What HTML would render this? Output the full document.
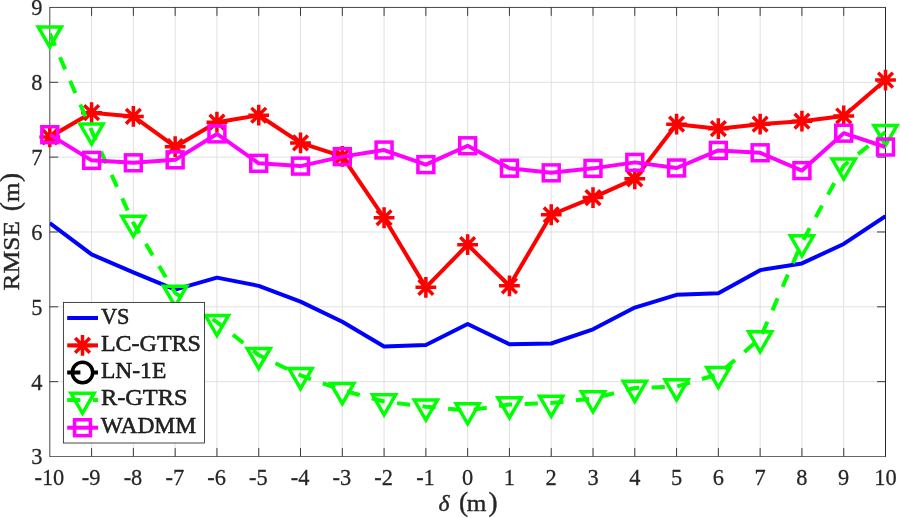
<!DOCTYPE html><html><head><meta charset="utf-8"><title>RMSE vs delta</title>
<style>html,body{margin:0;padding:0;background:#fff}svg{display:block}text{font-family:"Liberation Serif",serif;fill:#262626}</style></head><body>
<svg width="900" height="518" viewBox="0 0 900 518">
<rect width="900" height="518" fill="#fff"/>
<path d="M91.59,7.45V456.5M133.37,7.45V456.5M175.16,7.45V456.5M216.94,7.45V456.5M258.73,7.45V456.5M300.51,7.45V456.5M342.30,7.45V456.5M384.08,7.45V456.5M425.87,7.45V456.5M467.65,7.45V456.5M509.44,7.45V456.5M551.22,7.45V456.5M593.00,7.45V456.5M634.79,7.45V456.5M676.57,7.45V456.5M718.36,7.45V456.5M760.14,7.45V456.5M801.93,7.45V456.5M843.72,7.45V456.5M49.8,381.66H885.5M49.8,306.82H885.5M49.8,231.97H885.5M49.8,157.13H885.5M49.8,82.29H885.5" stroke="#dfdfdf" stroke-width="0.95" fill="none"/>
<defs><clipPath id="c"><rect x="49.8" y="7.45" width="835.7" height="449.05"/></clipPath></defs>
<path d="M91.59,456.5v-8.4M91.59,7.45v8.4M133.37,456.5v-8.4M133.37,7.45v8.4M175.16,456.5v-8.4M175.16,7.45v8.4M216.94,456.5v-8.4M216.94,7.45v8.4M258.73,456.5v-8.4M258.73,7.45v8.4M300.51,456.5v-8.4M300.51,7.45v8.4M342.30,456.5v-8.4M342.30,7.45v8.4M384.08,456.5v-8.4M384.08,7.45v8.4M425.87,456.5v-8.4M425.87,7.45v8.4M467.65,456.5v-8.4M467.65,7.45v8.4M509.44,456.5v-8.4M509.44,7.45v8.4M551.22,456.5v-8.4M551.22,7.45v8.4M593.00,456.5v-8.4M593.00,7.45v8.4M634.79,456.5v-8.4M634.79,7.45v8.4M676.57,456.5v-8.4M676.57,7.45v8.4M718.36,456.5v-8.4M718.36,7.45v8.4M760.14,456.5v-8.4M760.14,7.45v8.4M801.93,456.5v-8.4M801.93,7.45v8.4M843.72,456.5v-8.4M843.72,7.45v8.4M49.8,381.66h8.4M885.5,381.66h-8.4M49.8,306.82h8.4M885.5,306.82h-8.4M49.8,231.97h8.4M885.5,231.97h-8.4M49.8,157.13h8.4M885.5,157.13h-8.4M49.8,82.29h8.4M885.5,82.29h-8.4" stroke="#262626" stroke-width="0.9" fill="none"/>
<path d="M49.8,7.45H885.5" stroke="#262626" stroke-width="0.85" fill="none"/>
<path d="M49.8,456.5H885.5" stroke="#262626" stroke-width="0.7" fill="none"/>
<path d="M49.8,7.05V456.85" stroke="#262626" stroke-width="0.85" fill="none"/>
<path d="M885.5,7.05V456.85" stroke="#262626" stroke-width="1.0" fill="none"/>
<text transform="translate(49.40,484.8) scale(1,1.076)" font-size="22.4" text-anchor="middle" stroke="#262626" stroke-width="0.25">-10</text>
<text transform="translate(91.19,484.8) scale(1,1.076)" font-size="22.4" text-anchor="middle" stroke="#262626" stroke-width="0.25">-9</text>
<text transform="translate(132.97,484.8) scale(1,1.076)" font-size="22.4" text-anchor="middle" stroke="#262626" stroke-width="0.25">-8</text>
<text transform="translate(174.76,484.8) scale(1,1.076)" font-size="22.4" text-anchor="middle" stroke="#262626" stroke-width="0.25">-7</text>
<text transform="translate(216.54,484.8) scale(1,1.076)" font-size="22.4" text-anchor="middle" stroke="#262626" stroke-width="0.25">-6</text>
<text transform="translate(258.33,484.8) scale(1,1.076)" font-size="22.4" text-anchor="middle" stroke="#262626" stroke-width="0.25">-5</text>
<text transform="translate(300.11,484.8) scale(1,1.076)" font-size="22.4" text-anchor="middle" stroke="#262626" stroke-width="0.25">-4</text>
<text transform="translate(341.90,484.8) scale(1,1.076)" font-size="22.4" text-anchor="middle" stroke="#262626" stroke-width="0.25">-3</text>
<text transform="translate(383.68,484.8) scale(1,1.076)" font-size="22.4" text-anchor="middle" stroke="#262626" stroke-width="0.25">-2</text>
<text transform="translate(425.47,484.8) scale(1,1.076)" font-size="22.4" text-anchor="middle" stroke="#262626" stroke-width="0.25">-1</text>
<text transform="translate(467.65,484.8) scale(1,1.076)" font-size="22.4" text-anchor="middle" stroke="#262626" stroke-width="0.25">0</text>
<text transform="translate(509.44,484.8) scale(1,1.076)" font-size="22.4" text-anchor="middle" stroke="#262626" stroke-width="0.25">1</text>
<text transform="translate(551.22,484.8) scale(1,1.076)" font-size="22.4" text-anchor="middle" stroke="#262626" stroke-width="0.25">2</text>
<text transform="translate(593.00,484.8) scale(1,1.076)" font-size="22.4" text-anchor="middle" stroke="#262626" stroke-width="0.25">3</text>
<text transform="translate(634.79,484.8) scale(1,1.076)" font-size="22.4" text-anchor="middle" stroke="#262626" stroke-width="0.25">4</text>
<text transform="translate(676.57,484.8) scale(1,1.076)" font-size="22.4" text-anchor="middle" stroke="#262626" stroke-width="0.25">5</text>
<text transform="translate(718.36,484.8) scale(1,1.076)" font-size="22.4" text-anchor="middle" stroke="#262626" stroke-width="0.25">6</text>
<text transform="translate(760.14,484.8) scale(1,1.076)" font-size="22.4" text-anchor="middle" stroke="#262626" stroke-width="0.25">7</text>
<text transform="translate(801.93,484.8) scale(1,1.076)" font-size="22.4" text-anchor="middle" stroke="#262626" stroke-width="0.25">8</text>
<text transform="translate(843.72,484.8) scale(1,1.076)" font-size="22.4" text-anchor="middle" stroke="#262626" stroke-width="0.25">9</text>
<text transform="translate(885.50,484.8) scale(1,1.076)" font-size="22.4" text-anchor="middle" stroke="#262626" stroke-width="0.25">10</text>
<text transform="translate(42.5,464.40) scale(1,1.076)" font-size="22.4" text-anchor="end" stroke="#262626" stroke-width="0.25">3</text>
<text transform="translate(42.5,389.56) scale(1,1.076)" font-size="22.4" text-anchor="end" stroke="#262626" stroke-width="0.25">4</text>
<text transform="translate(42.5,314.72) scale(1,1.076)" font-size="22.4" text-anchor="end" stroke="#262626" stroke-width="0.25">5</text>
<text transform="translate(42.5,239.88) scale(1,1.076)" font-size="22.4" text-anchor="end" stroke="#262626" stroke-width="0.25">6</text>
<text transform="translate(42.5,165.03) scale(1,1.076)" font-size="22.4" text-anchor="end" stroke="#262626" stroke-width="0.25">7</text>
<text transform="translate(42.5,90.19) scale(1,1.076)" font-size="22.4" text-anchor="end" stroke="#262626" stroke-width="0.25">8</text>
<text transform="translate(42.5,15.35) scale(1,1.076)" font-size="22.4" text-anchor="end" stroke="#262626" stroke-width="0.25">9</text>
<text y="511.1" font-size="23.6" fill="#262626" stroke="#262626" stroke-width="0.4"><tspan x="438.4" font-style="italic">δ </tspan><tspan x="459.0" font-size="27.3">(</tspan><tspan x="466.7" textLength="19.6" lengthAdjust="spacingAndGlyphs">m</tspan><tspan x="488.6" font-size="27.3">)</tspan></text>
<text transform="translate(18.6,290.6) rotate(-90)" y="0" font-size="23.6" fill="#262626" stroke="#262626" stroke-width="0.4"><tspan x="0" textLength="69.6" lengthAdjust="spacingAndGlyphs">RMSE</tspan><tspan> </tspan><tspan x="79.4" font-size="27.3">(</tspan><tspan x="88.7" textLength="19.4" lengthAdjust="spacingAndGlyphs">m</tspan><tspan x="108.7" font-size="27.3">)</tspan></text>
<g clip-path="url(#c)" fill="none" stroke-linejoin="round">
<polyline points="49.80,222.99 91.59,254.43 133.37,272.39 175.16,289.60 216.94,277.63 258.73,285.86 300.51,301.58 342.30,321.78 384.08,346.48 425.87,344.99 467.65,324.03 509.44,344.24 551.22,343.49 593.00,329.27 634.79,307.57 676.57,294.84 718.36,293.35 760.14,270.14 801.93,263.41 843.72,243.95 885.50,216.26" stroke="#00f" stroke-width="4.0"/>
<polyline points="49.80,136.93 91.59,112.68 133.37,116.42 175.16,146.66 216.94,122.18 258.73,115.22 300.51,142.91 342.30,156.38 384.08,217.76 425.87,287.36 467.65,244.70 509.44,285.86 551.22,214.76 593.00,197.55 634.79,178.84 676.57,124.20 718.36,128.69 760.14,124.20 801.93,121.21 843.72,115.97 885.50,80.05" stroke="#f00" stroke-width="4.0"/>
</g>
<path d="M39.40,136.93H60.20M49.80,126.53V147.33M42.45,129.57L57.15,144.28M42.45,144.28L57.15,129.57" stroke="#f00" stroke-width="3.5" fill="none"/>
<path d="M81.19,112.68H101.99M91.59,102.28V123.08M84.23,105.32L98.94,120.03M84.23,120.03L98.94,105.32" stroke="#f00" stroke-width="3.5" fill="none"/>
<path d="M122.97,116.42H143.77M133.37,106.02V126.82M126.02,109.07L140.72,123.77M126.02,123.77L140.72,109.07" stroke="#f00" stroke-width="3.5" fill="none"/>
<path d="M164.76,146.66H185.56M175.16,136.26V157.06M167.80,139.30L182.51,154.01M167.80,154.01L182.51,139.30" stroke="#f00" stroke-width="3.5" fill="none"/>
<path d="M206.54,122.18H227.34M216.94,111.78V132.58M209.59,114.83L224.29,129.54M209.59,129.54L224.29,114.83" stroke="#f00" stroke-width="3.5" fill="none"/>
<path d="M248.33,115.22H269.12M258.73,104.82V125.62M251.37,107.87L266.08,122.58M251.37,122.58L266.08,107.87" stroke="#f00" stroke-width="3.5" fill="none"/>
<path d="M290.11,142.91H310.91M300.51,132.51V153.31M293.16,135.56L307.86,150.27M293.16,150.27L307.86,135.56" stroke="#f00" stroke-width="3.5" fill="none"/>
<path d="M331.90,156.38H352.69M342.30,145.98V166.78M334.94,149.03L349.65,163.74M334.94,163.74L349.65,149.03" stroke="#f00" stroke-width="3.5" fill="none"/>
<path d="M373.68,217.76H394.48M384.08,207.36V228.16M376.73,210.40L391.43,225.11M376.73,225.11L391.43,210.40" stroke="#f00" stroke-width="3.5" fill="none"/>
<path d="M415.47,287.36H436.26M425.87,276.96V297.76M418.51,280.00L433.22,294.71M418.51,294.71L433.22,280.00" stroke="#f00" stroke-width="3.5" fill="none"/>
<path d="M457.25,244.70H478.05M467.65,234.30V255.10M460.30,237.34L475.00,252.05M460.30,252.05L475.00,237.34" stroke="#f00" stroke-width="3.5" fill="none"/>
<path d="M499.04,285.86H519.84M509.44,275.46V296.26M502.08,278.51L516.79,293.21M502.08,293.21L516.79,278.51" stroke="#f00" stroke-width="3.5" fill="none"/>
<path d="M540.82,214.76H561.62M551.22,204.36V225.16M543.87,207.41L558.57,222.12M543.87,222.12L558.57,207.41" stroke="#f00" stroke-width="3.5" fill="none"/>
<path d="M582.61,197.55H603.40M593.00,187.15V207.95M585.65,190.19L600.36,204.90M585.65,204.90L600.36,190.19" stroke="#f00" stroke-width="3.5" fill="none"/>
<path d="M624.39,178.84H645.19M634.79,168.44V189.24M627.44,171.48L642.14,186.19M627.44,186.19L642.14,171.48" stroke="#f00" stroke-width="3.5" fill="none"/>
<path d="M666.17,124.20H686.97M676.57,113.80V134.60M669.22,116.85L683.93,131.56M669.22,131.56L683.93,116.85" stroke="#f00" stroke-width="3.5" fill="none"/>
<path d="M707.96,128.69H728.76M718.36,118.29V139.09M711.01,121.34L725.71,136.05M711.01,136.05L725.71,121.34" stroke="#f00" stroke-width="3.5" fill="none"/>
<path d="M749.75,124.20H770.54M760.14,113.80V134.60M752.79,116.85L767.50,131.56M752.79,131.56L767.50,116.85" stroke="#f00" stroke-width="3.5" fill="none"/>
<path d="M791.53,121.21H812.33M801.93,110.81V131.61M794.58,113.86L809.28,128.56M794.58,128.56L809.28,113.86" stroke="#f00" stroke-width="3.5" fill="none"/>
<path d="M833.32,115.97H854.12M843.72,105.57V126.37M836.36,108.62L851.07,123.32M836.36,123.32L851.07,108.62" stroke="#f00" stroke-width="3.5" fill="none"/>
<path d="M875.10,80.05H895.90M885.50,69.65V90.45M878.15,72.69L892.85,87.40M878.15,87.40L892.85,72.69" stroke="#f00" stroke-width="3.5" fill="none"/>
<g clip-path="url(#c)" fill="none" stroke-linejoin="round">
<polyline points="49.80,33.64 91.59,130.71 133.37,222.99 175.16,292.82 216.94,322.16 258.73,355.09 300.51,375.30 342.30,390.27 384.08,401.49 425.87,406.73 467.65,410.47 509.44,404.49 551.22,402.99 593.00,398.50 634.79,388.02 676.57,386.52 718.36,374.17 760.14,338.47 801.93,242.45 843.72,165.74 885.50,132.06" stroke="#0f0" stroke-width="4.0" stroke-dasharray="13.2 12.5"/>
</g>
<path d="M38.23,26.96H61.37L49.80,47.00Z" stroke="#0f0" stroke-width="3.5" fill="none" stroke-linejoin="miter"/>
<path d="M80.01,124.03H103.16L91.59,144.07Z" stroke="#0f0" stroke-width="3.5" fill="none" stroke-linejoin="miter"/>
<path d="M121.80,216.31H144.94L133.37,236.35Z" stroke="#0f0" stroke-width="3.5" fill="none" stroke-linejoin="miter"/>
<path d="M163.58,286.14H186.73L175.16,306.18Z" stroke="#0f0" stroke-width="3.5" fill="none" stroke-linejoin="miter"/>
<path d="M205.37,315.48H228.51L216.94,335.52Z" stroke="#0f0" stroke-width="3.5" fill="none" stroke-linejoin="miter"/>
<path d="M247.15,348.41H270.30L258.73,368.45Z" stroke="#0f0" stroke-width="3.5" fill="none" stroke-linejoin="miter"/>
<path d="M288.94,368.62H312.08L300.51,388.66Z" stroke="#0f0" stroke-width="3.5" fill="none" stroke-linejoin="miter"/>
<path d="M330.72,383.59H353.87L342.30,403.63Z" stroke="#0f0" stroke-width="3.5" fill="none" stroke-linejoin="miter"/>
<path d="M372.51,394.81H395.65L384.08,414.85Z" stroke="#0f0" stroke-width="3.5" fill="none" stroke-linejoin="miter"/>
<path d="M414.29,400.05H437.44L425.87,420.09Z" stroke="#0f0" stroke-width="3.5" fill="none" stroke-linejoin="miter"/>
<path d="M456.08,403.79H479.22L467.65,423.83Z" stroke="#0f0" stroke-width="3.5" fill="none" stroke-linejoin="miter"/>
<path d="M497.86,397.81H521.01L509.44,417.85Z" stroke="#0f0" stroke-width="3.5" fill="none" stroke-linejoin="miter"/>
<path d="M539.65,396.31H562.79L551.22,416.35Z" stroke="#0f0" stroke-width="3.5" fill="none" stroke-linejoin="miter"/>
<path d="M581.43,391.82H604.58L593.00,411.86Z" stroke="#0f0" stroke-width="3.5" fill="none" stroke-linejoin="miter"/>
<path d="M623.22,381.34H646.36L634.79,401.38Z" stroke="#0f0" stroke-width="3.5" fill="none" stroke-linejoin="miter"/>
<path d="M665.00,379.84H688.15L676.57,399.88Z" stroke="#0f0" stroke-width="3.5" fill="none" stroke-linejoin="miter"/>
<path d="M706.79,367.49H729.93L718.36,387.53Z" stroke="#0f0" stroke-width="3.5" fill="none" stroke-linejoin="miter"/>
<path d="M748.57,331.79H771.72L760.14,351.83Z" stroke="#0f0" stroke-width="3.5" fill="none" stroke-linejoin="miter"/>
<path d="M790.36,235.77H813.50L801.93,255.81Z" stroke="#0f0" stroke-width="3.5" fill="none" stroke-linejoin="miter"/>
<path d="M832.14,159.06H855.29L843.72,179.10Z" stroke="#0f0" stroke-width="3.5" fill="none" stroke-linejoin="miter"/>
<path d="M873.93,125.38H897.07L885.50,145.42Z" stroke="#0f0" stroke-width="3.5" fill="none" stroke-linejoin="miter"/>
<g clip-path="url(#c)" fill="none" stroke-linejoin="round">
<polyline points="49.80,134.68 91.59,160.35 133.37,162.82 175.16,159.83 216.94,133.93 258.73,163.35 300.51,166.11 342.30,156.61 384.08,150.02 425.87,164.62 467.65,145.76 509.44,168.21 551.22,172.85 593.00,168.36 634.79,162.37 676.57,167.99 718.36,150.40 760.14,152.79 801.93,170.60 843.72,133.18 885.50,147.03" stroke="#f0f" stroke-width="4.0"/>
</g>
<rect x="41.85" y="126.73" width="15.9" height="15.9" stroke="#f0f" stroke-width="3.5" fill="none"/>
<rect x="83.64" y="152.40" width="15.9" height="15.9" stroke="#f0f" stroke-width="3.5" fill="none"/>
<rect x="125.42" y="154.87" width="15.9" height="15.9" stroke="#f0f" stroke-width="3.5" fill="none"/>
<rect x="167.21" y="151.88" width="15.9" height="15.9" stroke="#f0f" stroke-width="3.5" fill="none"/>
<rect x="208.99" y="125.98" width="15.9" height="15.9" stroke="#f0f" stroke-width="3.5" fill="none"/>
<rect x="250.78" y="155.40" width="15.9" height="15.9" stroke="#f0f" stroke-width="3.5" fill="none"/>
<rect x="292.56" y="158.16" width="15.9" height="15.9" stroke="#f0f" stroke-width="3.5" fill="none"/>
<rect x="334.35" y="148.66" width="15.9" height="15.9" stroke="#f0f" stroke-width="3.5" fill="none"/>
<rect x="376.13" y="142.07" width="15.9" height="15.9" stroke="#f0f" stroke-width="3.5" fill="none"/>
<rect x="417.92" y="156.67" width="15.9" height="15.9" stroke="#f0f" stroke-width="3.5" fill="none"/>
<rect x="459.70" y="137.81" width="15.9" height="15.9" stroke="#f0f" stroke-width="3.5" fill="none"/>
<rect x="501.49" y="160.26" width="15.9" height="15.9" stroke="#f0f" stroke-width="3.5" fill="none"/>
<rect x="543.27" y="164.90" width="15.9" height="15.9" stroke="#f0f" stroke-width="3.5" fill="none"/>
<rect x="585.05" y="160.41" width="15.9" height="15.9" stroke="#f0f" stroke-width="3.5" fill="none"/>
<rect x="626.84" y="154.42" width="15.9" height="15.9" stroke="#f0f" stroke-width="3.5" fill="none"/>
<rect x="668.62" y="160.04" width="15.9" height="15.9" stroke="#f0f" stroke-width="3.5" fill="none"/>
<rect x="710.41" y="142.45" width="15.9" height="15.9" stroke="#f0f" stroke-width="3.5" fill="none"/>
<rect x="752.19" y="144.84" width="15.9" height="15.9" stroke="#f0f" stroke-width="3.5" fill="none"/>
<rect x="793.98" y="162.65" width="15.9" height="15.9" stroke="#f0f" stroke-width="3.5" fill="none"/>
<rect x="835.76" y="125.23" width="15.9" height="15.9" stroke="#f0f" stroke-width="3.5" fill="none"/>
<rect x="877.55" y="139.08" width="15.9" height="15.9" stroke="#f0f" stroke-width="3.5" fill="none"/>
<rect x="63.4" y="302.4" width="141.1" height="140.60000000000002" fill="#fff" stroke="#262626" stroke-width="0.85"/>
<path d="M67.2,318.00H98" stroke="#00f" stroke-width="4.0" fill="none"/>
<text x="100.9" y="323.50" font-size="23" fill="#000" stroke="#000" stroke-width="0.45" textLength="28.6" lengthAdjust="spacingAndGlyphs">VS</text>
<path d="M67.2,345.40H98" stroke="#f00" stroke-width="4.0" fill="none"/>
<path d="M72.10,345.40H92.90M82.50,335.00V355.80M75.15,338.05L89.85,352.75M75.15,352.75L89.85,338.05" stroke="#f00" stroke-width="3.5" fill="none"/>
<text x="100.9" y="350.50" font-size="23" fill="#000" stroke="#000" stroke-width="0.45" textLength="100.0" lengthAdjust="spacingAndGlyphs">LC-GTRS</text>
<path d="M67.2,372.50H98" stroke="#000" stroke-width="4.0" stroke-dasharray="13.2 12.5" fill="none"/>
<circle cx="82.50" cy="372.50" r="10.2" stroke="#000" stroke-width="3.5" fill="none"/>
<text x="100.9" y="378.30" font-size="23" fill="#000" stroke="#000" stroke-width="0.45" textLength="65.4" lengthAdjust="spacingAndGlyphs">LN-1E</text>
<path d="M67.2,400.00H98" stroke="#0f0" stroke-width="4.0" stroke-dasharray="13.2 12.5" fill="none"/>
<path d="M70.93,393.32H94.07L82.50,413.36Z" stroke="#0f0" stroke-width="3.5" fill="none" stroke-linejoin="miter"/>
<text x="100.9" y="405.30" font-size="23" fill="#000" stroke="#000" stroke-width="0.45" textLength="86.7" lengthAdjust="spacingAndGlyphs">R-GTRS</text>
<path d="M67.2,427.70H98" stroke="#f0f" stroke-width="4.0" fill="none"/>
<rect x="74.55" y="419.75" width="15.9" height="15.9" stroke="#f0f" stroke-width="3.5" fill="none"/>
<text x="100.8" y="432.90" font-size="23" fill="#000" stroke="#000" stroke-width="0.45" textLength="95.4" lengthAdjust="spacingAndGlyphs">WADMM</text>
</svg></body></html>
